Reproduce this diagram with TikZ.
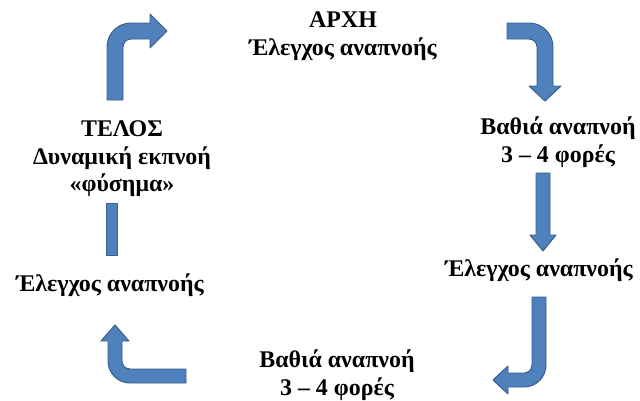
\documentclass[tikz,border=0pt]{standalone}
\usepackage{fontspec}
\setmainfont{Liberation Serif}
\usepackage{xcolor}
\usepackage{tikz}
\definecolor{arrowfill}{HTML}{4F81BD}
\definecolor{arrowline}{HTML}{385D8A}
\tikzset{
  blockarrow/.style={fill=arrowfill, draw=arrowline, line width=0.7pt, line join=round},
  steplab/.style={align=center, inner sep=0pt, font=\bfseries\fontsize{17}{19.5}\selectfont},
}

\begin{document}
\begin{tikzpicture}[x=0.025cm, y=-0.025cm]
  \useasboundingbox (0,0) rectangle (640,401);

  % texts of the cycle
  \node[steplab] (start)  at (343,36)  {ΑΡΧΗ\\Έλεγχος αναπνοής};
  \node[steplab] (deepA)  at (558,142) {Βαθιά αναπνοή\\3 – 4 φορές};
  \node[steplab] (checkA) at (539,270) {Έλεγχος αναπνοής};
  \node[steplab] (deepB)  at (337,375) {Βαθιά αναπνοή\\3 – 4 φορές};
  \node[steplab] (checkB) at (110,285) {Έλεγχος αναπνοής};
  \node[steplab] (finish) at (122,159) {ΤΕΛΟΣ\\Δυναμική εκπνοή\\«φύσημα»};

  % top left: up, then right
  \draw[blockarrow] (107,100) -- (107,47) arc[start angle=180, end angle=270, radius=24]
    -- (150,23) -- (150,14) -- (167,31) -- (150,48) -- (150,39) -- (131,39)
    arc[start angle=270, end angle=180, radius=8] -- (123,100) -- cycle;

  % top right: right, then down
  \draw[blockarrow] (507,23) -- (529,23) arc[start angle=270, end angle=360, radius=24]
    -- (553,86) -- (561,86) -- (545,101) -- (529,86) -- (537,86) -- (537,47)
    arc[start angle=0, end angle=-90, radius=8] -- (507,39) -- cycle;

  % right: straight down
  \draw[blockarrow] (536,173) -- (550,173) -- (550,235) -- (556,235) -- (543,251)
    -- (530,235) -- (536,235) -- cycle;

  % bottom right: down, then left
  \draw[blockarrow] (532,297) -- (546,297) -- (546,365) arc[start angle=0, end angle=90, radius=22]
    -- (508,387) -- (508,394) -- (493,380) -- (508,366) -- (508,373) -- (524,373)
    arc[start angle=90, end angle=0, radius=8] -- cycle;

  % bottom left: left, then up
  \draw[blockarrow] (186,369) -- (186,383) -- (130,383) arc[start angle=90, end angle=180, radius=22]
    -- (108,341) -- (101,341) -- (115,325) -- (129,341) -- (122,341) -- (122,361)
    arc[start angle=180, end angle=90, radius=8] -- cycle;

  % left: plain bar
  \draw[blockarrow] (106,203) rectangle (117,255);
\end{tikzpicture}
\end{document}
